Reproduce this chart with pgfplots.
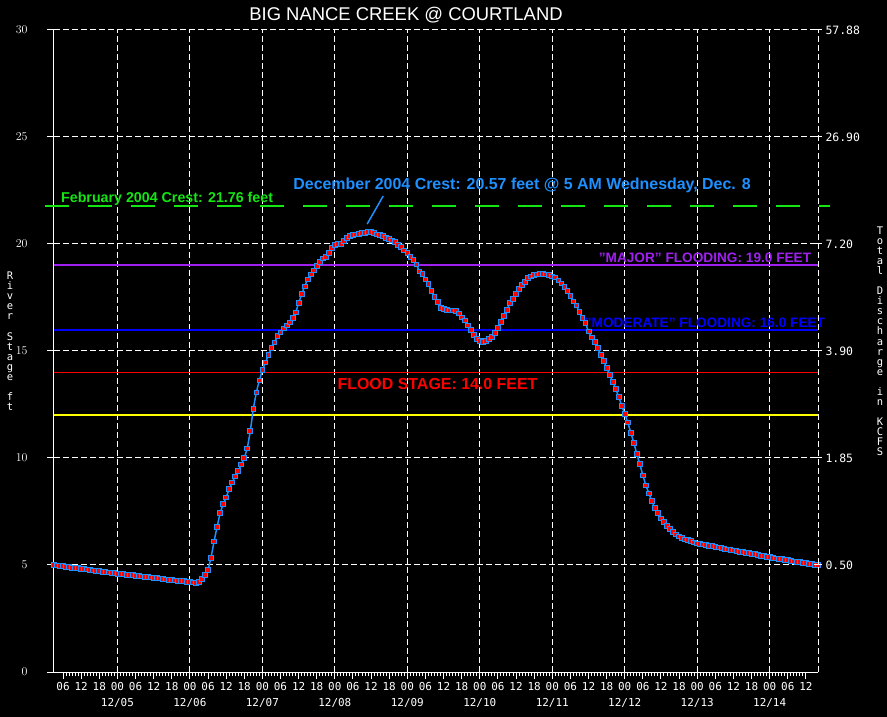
\documentclass[border=0pt]{standalone}
\usepackage{pgfplots}
\pgfplotsset{compat=1.18}
\usepackage{fontspec}
\setmainfont{Liberation Sans}
\newfontfamily\monofont{DejaVu Sans Mono}
\definecolor{plotblue}{RGB}{30,144,255}
\definecolor{crestgreen}{RGB}{20,230,20}
\definecolor{majpurple}{RGB}{160,32,240}
\definecolor{modblue}{RGB}{0,0,255}
\definecolor{floodred}{RGB}{255,0,0}
\definecolor{actyellow}{RGB}{255,255,0}
\def\s{\vrule height 7.5bp depth 1.5bp width 0pt}
\begin{document}
\begin{tikzpicture}
\fill[black] (-54bp,-45bp) rectangle (833bp,672bp);
\begin{axis}[
  at={(0,0)}, anchor=south west,
  scale only axis, width=764bp, height=642bp,
  xmin=-21, xmax=232, ymin=0, ymax=30,
  axis x line*=bottom, axis y line*=left,
  axis line style={white, line width=1bp, -},
  tick style={white, line width=1bp},
  tick align=outside,
  major tick length=7bp, minor tick length=4bp,
  xtick={-18,-12,...,228},
  xticklabels={06,12,18,{00\\12/05},06,12,18,{00\\12/06},06,12,18,{00\\12/07},06,12,18,{00\\12/08},06,12,18,{00\\12/09},06,12,18,{00\\12/10},06,12,18,{00\\12/11},06,12,18,{00\\12/12},06,12,18,{00\\12/13},06,12,18,{00\\12/14},06,12},
  minor x tick num=5,
  xticklabel style={font=\monofont\fontsize{11}{16}\selectfont, text=white, align=center, anchor=north},
  extra x ticks={0,24,...,216}, extra x tick labels={},
  extra x tick style={grid=major},
  x grid style={white, dash pattern=on 6bp off 3bp, line width=1bp},
  ytick={0,5,...,30},
  ymajorgrids,
  y grid style={white, dash pattern=on 6bp off 3bp, line width=1bp},
  yticklabel style={font=\monofont\fontsize{11.5}{13}\selectfont, text=white, anchor=east, xshift=-16bp},
  clip=false,
]
% reference stages
\addplot[color=actyellow, line width=1.6bp] coordinates {(-21,12) (232,12)};
\addplot[color=floodred, line width=1.6bp] coordinates {(-21,14) (232,14)};
\addplot[draw={rgb,255:red,0;green,0;blue,255}, line width=2bp] coordinates {(-21,16) (232,16)};
\addplot[draw={rgb,255:red,160;green,32;blue,240}, line width=2bp] coordinates {(-21,19) (232,19)};
\addplot[color=crestgreen, line width=2bp, dash pattern=on 24bp off 19bp] coordinates {(-24,21.76) (236,21.76)};
\addplot[color=plotblue, line width=1.5bp] coordinates {(88,22.24) (82.7,20.93)};
% hydrograph
\addplot[color=plotblue, line width=1.5bp, mark=square*, mark size=2.4bp,
  mark options={fill=red, draw=plotblue, line width=0.8bp, solid}] table {
h ft
-21 5.00
-20 4.98
-19 4.96
-18 4.94
-17 4.92
-16 4.90
-15 4.88
-14 4.86
-13 4.85
-12 4.83
-11 4.81
-10 4.79
-9 4.77
-8 4.75
-7 4.73
-6 4.71
-5 4.69
-4 4.67
-3 4.65
-2 4.63
-1 4.62
0 4.60
1 4.58
2 4.57
3 4.55
4 4.53
5 4.52
6 4.50
7 4.48
8 4.47
9 4.45
10 4.43
11 4.42
12 4.40
13 4.38
14 4.37
15 4.35
16 4.33
17 4.32
18 4.30
19 4.28
20 4.27
21 4.25
22 4.24
23 4.22
24 4.21
25 4.19
26 4.18
27 4.22
28 4.35
29 4.52
30 4.78
31 5.35
32 6.10
33 6.78
34 7.42
35 7.84
36 8.16
37 8.54
38 8.86
39 9.14
40 9.38
41 9.70
42 9.99
43 10.45
44 11.25
45 12.30
46 13.07
47 13.63
48 14.10
49 14.47
50 14.80
51 15.13
52 15.40
53 15.69
54 15.87
55 16.06
56 16.20
57 16.34
58 16.53
59 16.80
60 17.23
61 17.65
62 18.02
63 18.35
64 18.58
65 18.77
66 18.96
67 19.15
68 19.33
69 19.38
70 19.57
71 19.80
72 19.94
73 19.99
74 20.00
75 20.13
76 20.27
77 20.36
78 20.41
79 20.45
80 20.47
81 20.50
82 20.52
83 20.57
84 20.55
85 20.50
86 20.45
87 20.41
88 20.38
89 20.27
90 20.22
91 20.17
92 20.08
93 19.94
94 19.85
95 19.70
96 19.57
97 19.38
98 19.24
99 19.05
100 18.72
101 18.60
102 18.35
103 18.12
104 17.79
105 17.51
106 17.28
107 17.02
108 16.95
109 16.92
110 16.90
111 16.90
112 16.86
113 16.76
114 16.57
115 16.43
116 16.20
117 15.97
118 15.77
119 15.58
120 15.47
121 15.44
122 15.47
123 15.57
124 15.67
125 15.86
126 16.09
127 16.37
128 16.65
129 16.93
130 17.26
131 17.44
132 17.68
133 17.91
134 18.07
135 18.24
136 18.40
137 18.49
138 18.54
139 18.58
140 18.59
141 18.59
142 18.58
143 18.54
144 18.49
145 18.44
146 18.30
147 18.16
148 17.98
149 17.79
150 17.56
151 17.32
152 17.13
153 16.81
154 16.54
155 16.30
156 15.92
157 15.64
158 15.43
159 15.15
160 14.83
161 14.55
162 14.22
163 13.89
164 13.57
165 13.24
166 12.86
167 12.44
168 12.07
169 11.66
170 11.19
171 10.72
172 10.18
173 9.71
174 9.19
175 8.72
176 8.35
177 7.98
178 7.65
179 7.42
180 7.18
181 7.00
182 6.81
183 6.67
184 6.53
185 6.43
186 6.34
187 6.25
188 6.20
189 6.16
190 6.11
191 6.06
192 6.01
193 5.99
194 5.96
195 5.93
196 5.90
197 5.88
198 5.85
199 5.82
200 5.79
201 5.76
202 5.73
203 5.71
204 5.68
205 5.65
206 5.63
207 5.60
208 5.58
209 5.55
210 5.52
211 5.50
212 5.47
213 5.44
214 5.41
215 5.39
216 5.36
217 5.34
218 5.31
219 5.29
220 5.27
221 5.25
222 5.22
223 5.20
224 5.17
225 5.15
226 5.13
227 5.10
228 5.08
229 5.06
230 5.04
231 5.02
232 4.99
};
% annotations
\node[anchor=west, text=crestgreen, font=\bfseries\fontsize{14.3}{16}\selectfont] at (axis cs:-19.8,22.1) {February 2004 Crest: 21.76 feet};
\node[anchor=center, text=plotblue, font=\bfseries\fontsize{16}{18}\selectfont] at (axis cs:134,22.76) {December 2004 Crest: 20.57 feet @ 5 AM Wednesday, Dec. 8};
\node[anchor=east, text=majpurple, font=\bfseries\fontsize{13.7}{15}\selectfont] at (axis cs:230.9,19.35) {"MAJOR" FLOODING: 19.0 FEET};
\node[anchor=east, text=modblue, font=\bfseries\fontsize{13.7}{15}\selectfont] at (axis cs:235.5,16.34) {"MODERATE" FLOODING: 16.0 FEET};
\node[anchor=center, text=floodred, font=\bfseries\fontsize{16}{18}\selectfont] at (axis cs:106,13.46) {FLOOD STAGE: 14.0 FEET};
\end{axis}
\begin{axis}[
  at={(0,0)}, anchor=south west,
  scale only axis, width=764bp, height=642bp,
  xmin=-21, xmax=232, ymin=0, ymax=30,
  axis x line=none, axis y line*=right,
  y axis line style={white, dash pattern=on 6bp off 3bp, line width=1bp, -},
  y tick style={white, line width=1bp},
  tick align=center, major tick length=8bp,
  ytick={5,10,...,30},
  yticklabels={0.50,1.85,3.90,7.20,26.90,57.88},
  yticklabel style={font=\monofont\fontsize{11.5}{13}\selectfont, text=white, anchor=west},
]
\end{axis}
\node[text=white, font=\fontsize{18.5}{21}\selectfont] at (352bp,657bp) {BIG NANCE CREEK @ COURTLAND};
\node[text=white, align=center, inner sep=0pt, font=\monofont\fontsize{10.5}{10.1}\selectfont] at (-44bp,330bp)
  {\s R\\\s i\\\s v\\\s e\\\s r\\\s\\\s S\\\s t\\\s a\\\s g\\\s e\\\s\\\s f\\\s t};
\node[text=white, align=center, inner sep=0pt, font=\monofont\fontsize{10.5}{10.1}\selectfont] at (826bp,330bp)
  {\s T\\\s o\\\s t\\\s a\\\s l\\\s\\\s D\\\s i\\\s s\\\s c\\\s h\\\s a\\\s r\\\s g\\\s e\\\s\\\s i\\\s n\\\s\\\s K\\\s C\\\s F\\\s S};
\pgfresetboundingbox
\path (-54bp,-45bp) rectangle (833bp,672bp);
\end{tikzpicture}
\end{document}
